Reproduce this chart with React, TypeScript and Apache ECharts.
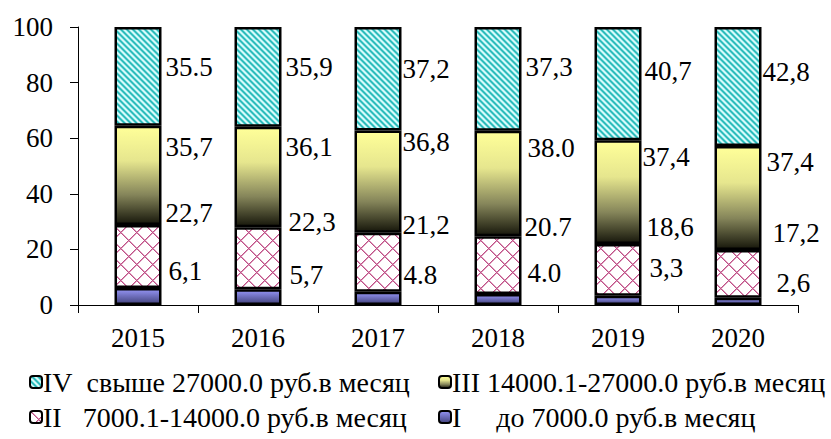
import React, { useEffect, useRef } from "react";
import * as echarts from "echarts";

const years = ["2015", "2016", "2017", "2018", "2019", "2020"];

const groupI = [6.1, 5.7, 4.8, 4.0, 3.3, 2.6];
const groupII = [22.7, 22.3, 21.2, 20.7, 18.6, 17.2];
const groupIII = [35.7, 36.1, 36.8, 38.0, 37.4, 37.4];
const groupIV = [35.5, 35.9, 37.2, 37.3, 40.7, 42.8];

const labelsI = ["6,1", "5,7", "4.8", "4.0", "3,3", "2,6"];
const labelsII = ["22,7", "22,3", "21,2", "20.7", "18,6", "17,2"];
const labelsIII = ["35,7", "36,1", "36,8", "38.0", "37,4", "37,4"];
const labelsIV = ["35.5", "35,9", "37,2", "37,3", "40,7", "42,8"];

const nameIV = "IV\u00a0\u00a0свыше 27000.0 руб.в месяц";
const nameIII = "III 14000.1-27000.0 руб.в месяц";
const nameII = "II\u00a0\u00a0\u00a07000.1-14000.0 руб.в месяц";
const nameI = "I\u00a0\u00a0\u00a0\u00a0\u00a0до 7000.0 руб.в месяц";

// label nudges (style, pixels) reproducing the hand-placed labels
const nudgeI = [[7, -26], [8, -22], [2, -23], [6, -26], [8, -32], [15, -18]];
const nudgeII = [[4, -43], [7, -36], [1, -37], [3, -38], [5, -43], [11, -41]];
const nudgeIII = [[4, -28], [4, -30], [1, -40], [6, -36], [1, -35], [5, -36]];
const nudgeIV = [[4, -9], [4, -10], [1, -10], [4, -12], [3, -13], [1, -14]];

const FONT = "'Liberation Serif', 'Times New Roman', serif";

function hex(h: string): number[] {
  const s = h.replace("#", "");
  return [parseInt(s.slice(0, 2), 16), parseInt(s.slice(2, 4), 16), parseInt(s.slice(4, 6), 16)];
}

function makeTile(size: number, fn: (x: number, y: number) => string): HTMLCanvasElement {
  const c = document.createElement("canvas");
  c.width = size;
  c.height = size;
  const ctx = c.getContext("2d")!;
  const img = ctx.createImageData(size, size);
  for (let y = 0; y < size; y++) {
    for (let x = 0; x < size; x++) {
      const [r, g, b] = hex(fn(x, y));
      const i = (y * size + x) * 4;
      img.data[i] = r;
      img.data[i + 1] = g;
      img.data[i + 2] = b;
      img.data[i + 3] = 255;
    }
  }
  ctx.putImageData(img, 0, 0);
  return c;
}

export default function App() {
  const ref = useRef<HTMLDivElement>(null);

  useEffect(() => {
    if (!ref.current) return;
    const chart = echarts.init(ref.current, null, { renderer: "svg" });

    const stripeTile = makeTile(6, (x, y) => {
      const m = (((x - y) % 6) + 6) % 6;
      if (m === 1 || m === 2) return "#2cbcbc";
      if (m === 0 || m === 3) return "#86dede";
      return "#d6fbfb";
    });
    const crossTile = makeTile(16, (x, y) => {
      const a = (x + y) % 16;
      const b = (((x - y) % 16) + 16) % 16;
      if (a === 0 || b === 0) return "#bf4f86";
      if (a === 1 || b === 1) return "#dc9cbc";
      return "#ffffff";
    });

    const colorIV = { image: stripeTile, repeat: "repeat" };
    const colorII = { image: crossTile, repeat: "repeat" };
    const colorIII = new echarts.graphic.LinearGradient(0, 0, 0, 1, [
      { offset: 0, color: "#ffff99" },
      { offset: 0.35, color: "#e6e68e" },
      { offset: 0.7, color: "#85855a" },
      { offset: 1, color: "#18180c" },
    ]);
    const colorI = new echarts.graphic.LinearGradient(0, 0, 0, 1, [
      { offset: 0, color: "#9494f4" },
      { offset: 1, color: "#44447e" },
    ]);

    const mkData = (vals: number[], nudge: number[][]) =>
      vals.map((v, i) => ({ value: v, label: { offset: nudge[i] } }));

    const mkSeries = (name: string, vals: number[], labels: string[], nudge: number[][], color: any) => ({
      name,
      type: "bar",
      stack: "total",
      barWidth: 47,
      data: mkData(vals, nudge),
      itemStyle: { color, borderColor: "#000", borderWidth: 2.5 },
      label: {
        show: true,
        position: "right",
        distance: 0,
        formatter: (p: any) => labels[p.dataIndex],
        fontSize: 27,
        fontFamily: FONT,
        color: "#000",
      },
    });

    const legendBase = {
      orient: "horizontal",
      padding: 0,
      itemWidth: 12,
      itemHeight: 12,
      itemGap: 0,
      textStyle: { fontSize: 28, fontFamily: FONT, color: "#000", padding: [0, 0, 0, -4] },
      itemStyle: { borderColor: "#000", borderWidth: 2 },
    };

    chart.setOption({
      animation: false,
      backgroundColor: "#fff",
      grid: { left: 78, right: 33, top: 27, bottom: 134, containLabel: false },
      legend: [
        { ...legendBase, data: [nameIV], left: 29, top: 368 },
        { ...legendBase, data: [nameIII], left: 438, top: 368 },
        { ...legendBase, data: [nameII], left: 29, top: 403 },
        { ...legendBase, data: [nameI], left: 438, top: 403 },
      ],
      xAxis: {
        type: "category",
        data: years,
        axisLine: { show: true, lineStyle: { color: "#000", width: 1 } },
        axisTick: { show: true, length: 8, lineStyle: { color: "#000" } },
        axisLabel: { fontSize: 27, fontFamily: FONT, color: "#000", margin: 19 },
      },
      yAxis: {
        type: "value",
        min: 0,
        max: 100,
        interval: 20,
        splitLine: { show: false },
        axisLine: { show: true, lineStyle: { color: "#000", width: 1 } },
        axisTick: { show: true, length: 8, lineStyle: { color: "#000" } },
        axisLabel: { fontSize: 27, fontFamily: FONT, color: "#000", margin: 25 },
      },
      series: [
        mkSeries(nameI, groupI, labelsI, nudgeI, colorI),
        mkSeries(nameII, groupII, labelsII, nudgeII, colorII),
        mkSeries(nameIII, groupIII, labelsIII, nudgeIII, colorIII),
        mkSeries(nameIV, groupIV, labelsIV, nudgeIV, colorIV),
      ],
    });

    return () => chart.dispose();
  }, []);

  return (
    <div
      ref={ref}
      style={{ position: "absolute", left: 0, top: 0, width: 831, height: 439 }}
    />
  );
}
